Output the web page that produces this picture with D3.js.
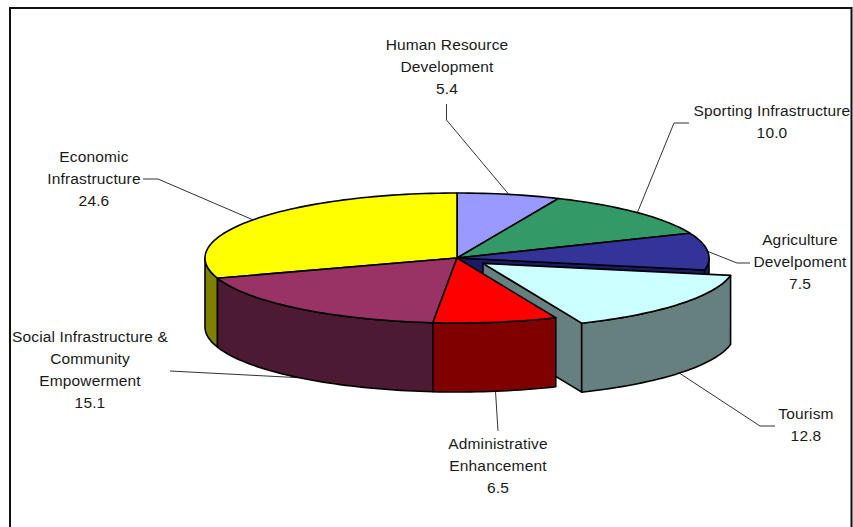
<!DOCTYPE html>
<html>
<head>
<meta charset="utf-8">
<script src="https://cdn.jsdelivr.net/npm/d3@7"></script>
<style>
    html, body { margin: 0; padding: 0; background: #fff; overflow: hidden; }
    svg { display: block; }
    text { font-family: "Liberation Sans", Arial, sans-serif; font-size: 15.5px; letter-spacing: 0.15px; fill: #1a1a1a; }
</style>
</head>
<body>
<svg id="chart" width="853" height="527"></svg>
<script>
var categories = [
    ["Human Resource", "Development"],
    ["Sporting Infrastructure"],
    ["Agriculture", "Develpoment"],
    ["Tourism"],
    ["Administrative", "Enhancement"],
    ["Social Infrastructure &", "Community", "Empowerment"],
    ["Economic", "Infrastructure"]
];
var values = [5.4, 10.0, 7.5, 12.8, 6.5, 15.1, 24.6];
var topColors = ["#9999ff", "#339966", "#333399", "#ccffff", "#ff0000", "#993366", "#ffff00"];
var sideColors = ["#4d4d80", "#1a4d33", "#1a1a66", "#668080", "#800000", "#4d1a33", "#808000"];

// Label layout: text centre, first baseline, and the leader path from label to slice
var labelX = [447, 772, 800, 806, 498, 90, 94];
var labelY = [50, 116, 245, 419, 449, 342, 162];
var leaderStart = [[446.5, 104], [689, 123], [750, 263], [775, 426], [498, 431], [170, 371], [143, 179]];
var leaderElbow = [[446.5, 120], [674, 123], [737, 263], [760, 426], null, null, [158, 179]];
var leaderOnBase = [false, false, false, true, true, true, false];

var cx = 457, cy = 258, rx = 252, ry = 65, depth = 69;
var explodedIndex = 3, explodeBy = 0.132;
var lineHeight = 22;

var svg = d3.select("#chart");

var slices = d3.pie().sort(null).value(function (d) { return d; })(values);

function offset(i) {
    if (i !== explodedIndex) return [0, 0];
    var mid = (slices[i].startAngle + slices[i].endAngle) / 2;
    return [Math.sin(mid) * rx * explodeBy, -Math.cos(mid) * ry * explodeBy];
}

// Point on the slice rim, dz pushes it down to the base of the pie
function rim(i, a, dz) {
    var o = offset(i);
    return [cx + o[0] + Math.sin(a) * rx, cy + o[1] - Math.cos(a) * ry + (dz || 0)];
}

function apex(i, dz) {
    var o = offset(i);
    return [cx + o[0], cy + o[1] + (dz || 0)];
}

function arcPoints(i, a0, a1, dz) {
    var steps = Math.max(2, Math.ceil((a1 - a0) / (Math.PI / 120)));
    return d3.range(steps + 1).map(function (k) {
        return rim(i, a0 + (a1 - a0) * k / steps, dz);
    });
}

var line = d3.line();

// Leaders go first so the pie hides their ends
var leaders = svg.append("g").attr("fill", "none").attr("stroke", "#333").attr("stroke-width", 1);
slices.forEach(function (s, i) {
    var mid = (s.startAngle + s.endAngle) / 2;
    var pts = [leaderStart[i]];
    if (leaderElbow[i]) pts.push(leaderElbow[i]);
    pts.push(rim(i, mid, leaderOnBase[i] ? depth : 0));
    leaders.append("path").attr("d", line(pts));
});

var pie = svg.append("g").attr("stroke", "#000").attr("stroke-width", 1.6).attr("stroke-linejoin", "round");

function drawTop(i) {
    var s = slices[i];
    var pts = [apex(i)].concat(arcPoints(i, s.startAngle, s.endAngle));
    pie.append("path").attr("d", line(pts) + "Z").attr("fill", topColors[i]);
}

// Outer wall, only the part that faces the viewer
function drawWall(i) {
    var s = slices[i];
    var a0 = Math.max(s.startAngle, Math.PI / 2);
    var a1 = Math.min(s.endAngle, Math.PI * 1.5);
    if (a1 <= a0) return;
    var pts = arcPoints(i, a0, a1).concat(arcPoints(i, a0, a1, depth).reverse());
    pie.append("path").attr("d", line(pts) + "Z").attr("fill", sideColors[i]);
}

// Flat cut face from the centre out to the rim at angle a
function drawCut(i, a) {
    var pts = [apex(i), rim(i, a), rim(i, a, depth), apex(i, depth)];
    pie.append("path").attr("d", line(pts) + "Z").attr("fill", sideColors[i]);
}

// Painter's order, back to front
drawWall(6);
drawCut(2, slices[2].endAngle);
drawWall(2);
[0, 1, 2, 6].forEach(drawTop);
drawCut(3, slices[3].endAngle);
drawWall(3);
drawTop(3);
drawWall(5);
drawWall(4);
drawTop(5);
drawTop(4);

// Labels
slices.forEach(function (s, i) {
    var t = svg.append("text").attr("text-anchor", "middle");
    categories[i].concat(values[i].toFixed(1)).forEach(function (str, k) {
        t.append("tspan").attr("x", labelX[i]).attr("y", labelY[i] + k * lineHeight).text(str);
    });
});

// Chart frame, cut off by the bottom of the picture
svg.append("path")
    .attr("d", "M10,527V8H851.5V527")
    .attr("fill", "none")
    .attr("stroke", "#111")
    .attr("stroke-width", 2);
</script>
</body>
</html>
